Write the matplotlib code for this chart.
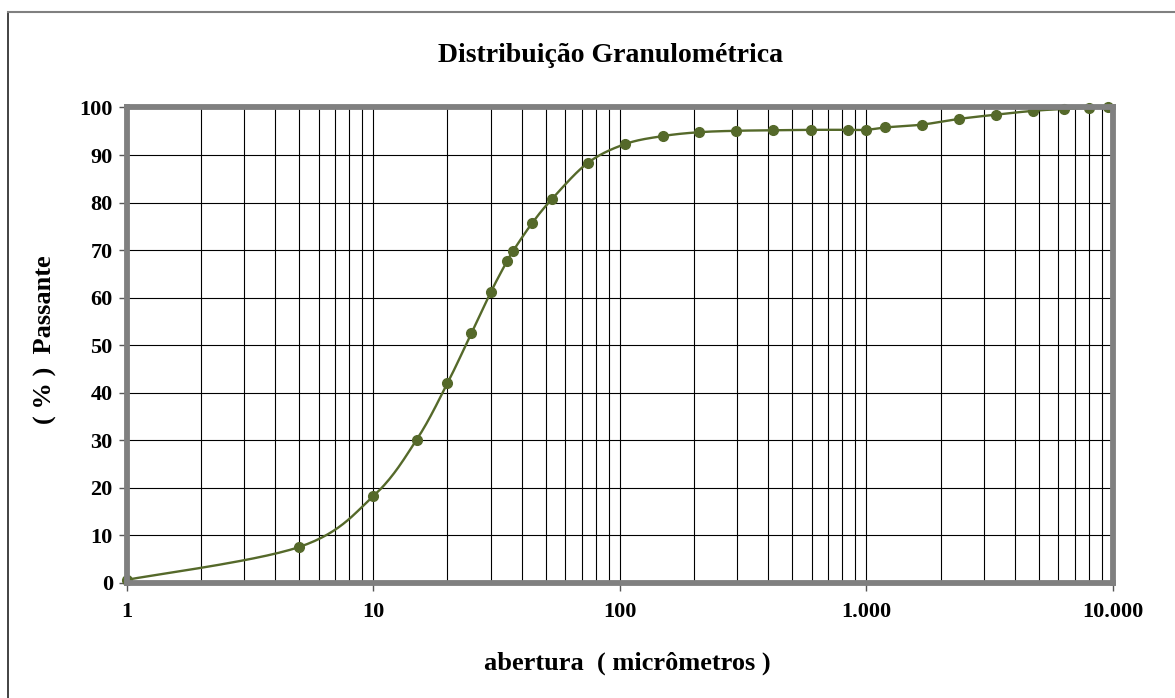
import numpy as np
import matplotlib
matplotlib.use("Agg")
import matplotlib.pyplot as plt
from matplotlib.lines import Line2D

# sieve / particle sizes (micrometres) and cumulative % passing
abertura = [1, 5, 10, 15, 20, 25, 30, 35, 37, 44, 53, 74, 105, 150, 210, 297,
            420, 595, 841, 1000, 1190, 1680, 2380, 3360, 4760, 6350, 8000, 9520]
passante = [0.6, 7.5, 18.2, 30.1, 42.0, 52.5, 61.2, 67.8, 69.9, 75.6, 80.7, 88.3,
            92.3, 94.0, 94.8, 95.1, 95.2, 95.3, 95.3, 95.3, 95.8, 96.4, 97.6,
            98.5, 99.3, 99.7, 99.9, 100.0]
xticks = [1, 10, 100, 1000, 10000]
xticklabels = ["1", "10", "100", "1.000", "10.000"]
yticks = list(range(0, 101, 10))

plt.rcParams["font.family"] = ["Liberation Serif", "DejaVu Serif"]
plt.rcParams["font.weight"] = "bold"
COL = "#55692A"


def smooth(xs, ys, n=30):
    # excel-like smoothed line: catmull-rom bezier in screen-ish units
    u = np.log10(xs) * 246.6
    v = np.asarray(ys) * 4.75
    P = np.column_stack([u, v])
    P = np.vstack([P[0], P, P[-1]])
    out = []
    t = np.linspace(0, 1, n)[:, None]
    for i in range(1, len(P) - 2):
        p0, p1, p2, p3 = P[i - 1], P[i], P[i + 1], P[i + 2]
        c1 = p1 + (p2 - p0) / 6
        c2 = p2 - (p3 - p1) / 6
        seg = ((1 - t) ** 3) * p1 + 3 * ((1 - t) ** 2) * t * c1 + 3 * (1 - t) * t ** 2 * c2 + t ** 3 * p2
        out.append(seg if i == 1 else seg[1:])
    out = np.vstack(out)
    return 10 ** (out[:, 0] / 246.6), out[:, 1] / 4.75


fig = plt.figure(figsize=(11.75, 6.98), dpi=100)
ax = fig.add_axes([0.1078, 0.1652, 0.8394, 0.6808])

ax.set_xscale("log")
ax.set_xlim(1, 10000)
ax.set_ylim(0, 100)

ax.grid(True, which="both", axis="x", color="black", lw=0.8)
ax.grid(True, which="major", axis="y", color="black", lw=0.8)
ax.set_axisbelow(True)

sx, sy = smooth(abertura, passante)
ax.plot(sx, sy, color=COL, lw=1.7, zorder=3)
ax.plot(abertura, passante, "o", color=COL, ms=7, zorder=4, clip_on=False)

ax.set_xticks(xticks)
ax.set_xticklabels(xticklabels)
ax.set_yticks(yticks)
ax.tick_params(axis="both", which="major", labelsize=16, length=6, width=1,
               color="#555555", direction="out")
ax.tick_params(axis="x", which="major", pad=8)
ax.tick_params(axis="y", which="major", pad=4)
ax.tick_params(axis="x", which="minor", length=0)
for lab in ax.get_xticklabels() + ax.get_yticklabels():
    lab.set_fontweight("bold")

for s in ax.spines.values():
    s.set_color("#808080")
    s.set_linewidth(4.2)
    s.set_capstyle("projecting")
    s.set_zorder(5)

fig.text(0.52, 0.921, "Distribuição Granulométrica", ha="center", va="center",
         fontsize=20, fontweight="bold")
fig.text(0.534, 0.05, "abertura  ( micrômetros )", ha="center", va="center",
         fontsize=19, fontweight="bold")
fig.text(0.039, 0.513, "( % )  Passante", ha="center", va="center",
         rotation=90, fontsize=19, fontweight="bold")

# chart area border (left and top visible)
fig.add_artist(Line2D([0.0072, 0.0072], [0.0, 0.983], transform=fig.transFigure,
                      color="#222222", lw=1.2))
fig.add_artist(Line2D([0.0072, 1.0], [0.983, 0.983], transform=fig.transFigure,
                      color="#808080", lw=1.5))

fig.savefig("out.png", dpi=100)
